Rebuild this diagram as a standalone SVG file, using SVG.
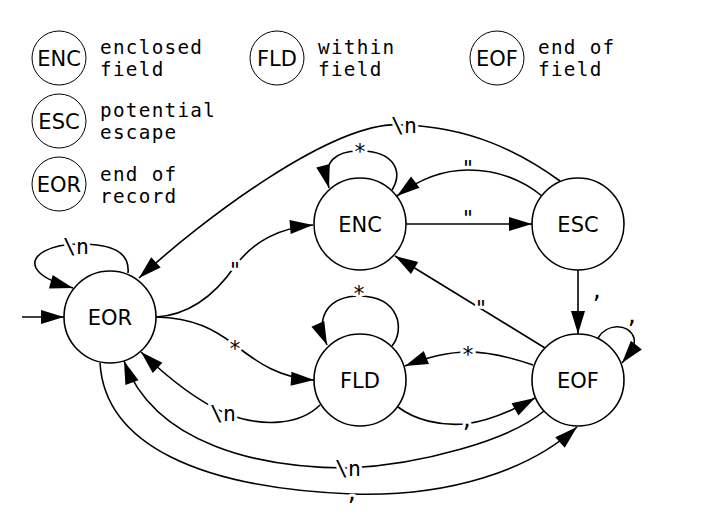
<svg xmlns="http://www.w3.org/2000/svg" width="720" height="517" viewBox="0 0 720 517">
<style>
.bg{fill:#fff}
.node circle{fill:#fff;stroke:#000;stroke-width:1.6}
.legend circle{fill:#fff;stroke:#000;stroke-width:1}
.nl{font-family:"DejaVu Sans",sans-serif;font-size:21px;fill:#000;text-anchor:middle}
.lt{font-family:"DejaVu Sans Mono",monospace;font-size:19.3px;letter-spacing:1.3px;fill:#000}
.edges path{fill:none;stroke:#000;stroke-width:1.6;marker-end:url(#arr)}
.el{font-family:"DejaVu Sans Mono",monospace;font-size:21.5px;fill:#000;text-anchor:middle;stroke:#fff;stroke-width:6;paint-order:stroke;stroke-linejoin:round}
#edge-labels{opacity:0.999}
</style>
<defs>
<marker id="arr" markerWidth="24" markerHeight="14" refX="23" refY="7" orient="auto" markerUnits="userSpaceOnUse" overflow="visible">
<path d="M0,0 L23,7 L0,14 z" fill="#000" stroke="none"/>
</marker>
</defs>
<rect class="bg" width="720" height="517"/>

<g id="legend">
<g id="legend-ENC" class="legend"><circle cx="59" cy="58" r="27"/><text class="nl" x="59" y="65.6">ENC</text>
<text class="lt" x="100" y="53.75">enclosed<tspan x="100" dy="22.5">field</tspan></text></g>
<g id="legend-FLD" class="legend"><circle cx="277" cy="58" r="27"/><text class="nl" x="277" y="65.6">FLD</text>
<text class="lt" x="318" y="53.75">within<tspan x="318" dy="22.5">field</tspan></text></g>
<g id="legend-EOF" class="legend"><circle cx="497" cy="58" r="27"/><text class="nl" x="497" y="65.6">EOF</text>
<text class="lt" x="538" y="53.75">end of<tspan x="538" dy="22.5">field</tspan></text></g>
<g id="legend-ESC" class="legend"><circle cx="59" cy="121" r="27"/><text class="nl" x="59" y="128.6">ESC</text>
<text class="lt" x="100" y="116.75">potential<tspan x="100" dy="22.5">escape</tspan></text></g>
<g id="legend-EOR" class="legend"><circle cx="59" cy="184" r="27"/><text class="nl" x="59" y="191.6">EOR</text>
<text class="lt" x="100" y="180.75">end of<tspan x="100" dy="22.5">record</tspan></text></g>
</g>

<g id="edges" class="edges">
<path id="e-start" d="M22,317 L64,317"/>
<path id="e-EOR-EOR" d="M128,273 C130,252 112,244 80,244 C50,244 30,255 36,268 C40,276 55,283 73,288"/>
<path id="e-ESC-EOR" d="M560,181 C520,152 470,127 404,125 C335,118 200,222 139,278"/>
<path id="e-ESC-ENC" d="M542,196 C520,178 495,170 468,170 C440,170 418,180 397,196"/>
<path id="e-ENC-ENC" d="M392,190 C403,172 395,152 362,151 C335,150 322,162 329,188"/>
<path id="e-ENC-ESC" d="M406,224 L532,224"/>
<path id="e-ESC-EOF" d="M578,270 L578,334"/>
<path id="e-EOF-EOF" d="M598,338 C606,324 628,322 634,338 C636,345 630,353 622,363"/>
<path id="e-EOF-ENC" d="M545,348 L395,256"/>
<path id="e-EOF-FLD" d="M533,365 C510,357 490,352 468,352 C445,352 425,358 405,366"/>
<path id="e-FLD-FLD" d="M392,346 C405,330 400,297 360,296 C330,296 314,315 327,345"/>
<path id="e-EOR-ENC" d="M156,317 C190,315 215,295 235,266 C255,240 280,228 313,225"/>
<path id="e-EOR-FLD" d="M156,317 C195,318 215,330 235,345 C258,363 280,378 314,380"/>
<path id="e-FLD-EOR" d="M320,405 C300,425 262,428 225,413 C195,400 165,375 141,352"/>
<path id="e-FLD-EOF" d="M398,407 C415,420 440,426 465,424 C490,421 512,411 535,398"/>
<path id="e-EOF-EOR" d="M544,411 C510,440 420,465 348,468 C260,468 155,445 124,361"/>
<path id="e-EOR-EOF" d="M100,363 C105,445 200,488 352,494 C450,497 530,470 577,427"/>
</g>

<g id="edge-labels">
<text class="el" x="76" y="254">\n</text>
<text class="el" x="404" y="133">\n</text>
<text class="el" x="468" y="176">"</text>
<text class="el" x="360" y="159">*</text>
<text class="el" x="468" y="226">"</text>
<text class="el" x="597" y="298">,</text>
<text class="el" x="632" y="323">,</text>
<text class="el" x="481" y="316">"</text>
<text class="el" x="468" y="362">*</text>
<text class="el" x="359" y="301">*</text>
<text class="el" x="235" y="278">"</text>
<text class="el" x="235" y="356">*</text>
<text class="el" x="223" y="421">\n</text>
<text class="el" x="467" y="427">,</text>
<text class="el" x="348" y="476">\n</text>
<text class="el" x="352" y="500">,</text>
</g>

<g id="node-ENC" class="node"><circle cx="360" cy="224" r="46"/><text class="nl" x="360" y="231.6">ENC</text></g>
<g id="node-ESC" class="node"><circle cx="578" cy="224" r="46"/><text class="nl" x="578" y="231.6">ESC</text></g>
<g id="node-EOR" class="node"><circle cx="110" cy="317" r="46"/><text class="nl" x="110" y="324.6">EOR</text></g>
<g id="node-FLD" class="node"><circle cx="360" cy="380" r="46"/><text class="nl" x="360" y="387.6">FLD</text></g>
<g id="node-EOF" class="node"><circle cx="578" cy="380" r="46"/><text class="nl" x="578" y="387.6">EOF</text></g>
</svg>
